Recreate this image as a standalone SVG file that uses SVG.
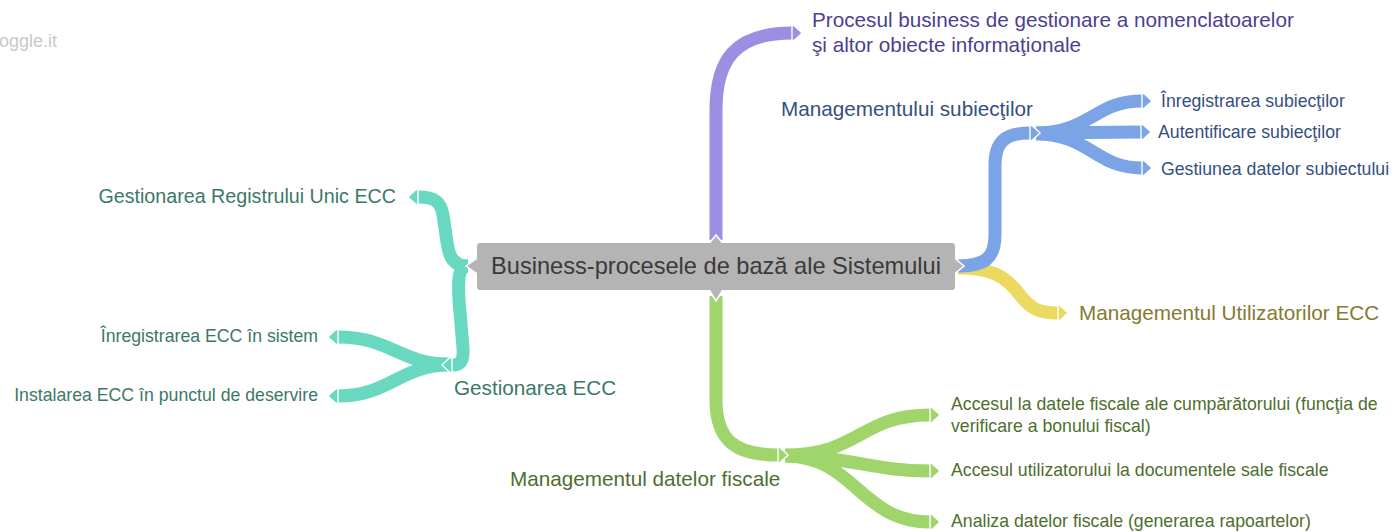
<svg xmlns="http://www.w3.org/2000/svg" width="1394" height="532" viewBox="0 0 1394 532">
<style>
text{font-family:"Liberation Sans",Arial,sans-serif}
.c{fill:none;stroke-width:13;stroke-linecap:butt}
.pu{stroke:#9b8fe2}.bl{stroke:#7ba4e6}.ye{stroke:#ebd962}.gr{stroke:#9fd56b}.te{stroke:#69d8c0}
.l1{font-size:20.7px}.l2{font-size:17.7px}
</style>
<defs>
<marker id="mpu" markerUnits="userSpaceOnUse" markerWidth="14" markerHeight="18" viewBox="-1 -1 12 16" refX="0" refY="7" orient="auto"><path d="M0,0.5 L2,0.5 L9,7 L2,13.5 L0,13.5Z" fill="#9b8fe2" stroke="#fff" stroke-width="1.2"/></marker>
<marker id="mbl" markerUnits="userSpaceOnUse" markerWidth="14" markerHeight="18" viewBox="-1 -1 12 16" refX="0" refY="7" orient="auto"><path d="M0,0.5 L2,0.5 L9,7 L2,13.5 L0,13.5Z" fill="#7ba4e6" stroke="#fff" stroke-width="1.2"/></marker>
<marker id="mye" markerUnits="userSpaceOnUse" markerWidth="14" markerHeight="18" viewBox="-1 -1 12 16" refX="0" refY="7" orient="auto"><path d="M0,0.5 L2,0.5 L9,7 L2,13.5 L0,13.5Z" fill="#ebd962" stroke="#fff" stroke-width="1.2"/></marker>
<marker id="mgr" markerUnits="userSpaceOnUse" markerWidth="14" markerHeight="18" viewBox="-1 -1 12 16" refX="0" refY="7" orient="auto"><path d="M0,0.5 L2,0.5 L9,7 L2,13.5 L0,13.5Z" fill="#9fd56b" stroke="#fff" stroke-width="1.2"/></marker>
<marker id="mte" markerUnits="userSpaceOnUse" markerWidth="14" markerHeight="18" viewBox="-1 -1 12 16" refX="0" refY="7" orient="auto"><path d="M0,0.5 L2,0.5 L9,7 L2,13.5 L0,13.5Z" fill="#69d8c0" stroke="#fff" stroke-width="1.2"/></marker>
</defs>
<rect width="1394" height="532" fill="#fff"/>
<text x="-1" y="47" font-size="18" fill="#c9c9c9">oggle.it</text>

<g id="connectors">
<path class="c bl" d="M1036,133 C1090,133 1095,101 1142,101" marker-end="url(#mbl)"/>
<path class="c bl" d="M1036,133 L1141,132" marker-end="url(#mbl)"/>
<path class="c bl" d="M1036,134 C1090,134 1095,168 1142,168" marker-end="url(#mbl)"/>
<path class="c gr" d="M785,455 C860,455 860,415 930,415" marker-end="url(#mgr)"/>
<path class="c gr" d="M785,456 C850,456 870,471 930,471" marker-end="url(#mgr)"/>
<path class="c gr" d="M785,456 C855,456 860,522 930,522" marker-end="url(#mgr)"/>
<path class="c te" d="M449,364 C400,364 390,337 338,337" marker-end="url(#mte)"/>
<path class="c te" d="M449,365 C400,365 390,396 338,396" marker-end="url(#mte)"/>
<path class="c pu" d="M716,240 L716,110 C716,60 735,33 792,33" marker-end="url(#mpu)"/>
<path class="c ye" d="M958,268 C990,268 1005,275 1020,295 C1032,310 1040,313 1058,313" marker-end="url(#mye)"/>
<path class="c bl" d="M958,266 C985,266 995,258 995,235 L995,165 C995,142 1005,133 1030,133" marker-end="url(#mbl)"/>
<path class="c gr" d="M716,296 L716,400 C716,440 735,455 778,455" marker-end="url(#mgr)"/>
<path class="c te" d="M468,266 C450,266 448,252 446,235 L443,215 C441,202 435,197 418,197" marker-end="url(#mte)"/>
<path class="c te" d="M468,266 C458,266 458,280 459,300 L463,348 C464,362 460,365 452,365" marker-end="url(#mte)"/>
</g>

<g id="root">
<path d="M709,243.5 L716,235 L723,243.5 M709,289.5 L716,301 L723,289.5 M477.5,258 L466,266 L477.5,274 M954.5,258 L964,266 L954.5,274" fill="#b4b4b4" stroke="#fff" stroke-width="1.5"/>
<rect x="477" y="243" width="478" height="47" rx="3" fill="#b4b4b4"/>
<text x="716" y="274" font-size="23.6" fill="#3a3a3a" text-anchor="middle">Business-procesele de bază ale Sistemului</text>
</g>

<g id="n-procesul" fill="#4b3f92"><text x="812" y="27" class="l1">Procesul business de gestionare a nomenclatoarelor</text><text x="812" y="52" class="l1">şi altor obiecte informaţionale</text></g>
<g id="n-subiectilor"><text x="907" y="116" class="l1" fill="#35507f" text-anchor="middle">Managementului subiecţilor</text></g>
<g id="n-inreg-subiect"><text x="1161" y="107" class="l2" fill="#35507f">Înregistrarea subiecţilor</text></g>
<g id="n-autent"><text x="1158" y="138" class="l2" fill="#35507f">Autentificare subiecţilor</text></g>
<g id="n-gestiunea"><text x="1161" y="175" class="l2" fill="#35507f">Gestiunea datelor subiectului</text></g>
<g id="n-utilizatori"><text x="1079" y="320" class="l1" fill="#857a2f">Managementul Utilizatorilor ECC</text></g>
<g id="n-fiscale"><text x="510" y="486" class="l1" fill="#4e6e2e">Managementul datelor fiscale</text></g>
<g id="n-acces-cump" fill="#4e6e2e"><text x="951" y="410" class="l2">Accesul la datele fiscale ale cumpărătorului (funcţia de</text><text x="951" y="432" class="l2">verificare a bonului fiscal)</text></g>
<g id="n-acces-util"><text x="951" y="476" class="l2" fill="#4e6e2e">Accesul utilizatorului la documentele sale fiscale</text></g>
<g id="n-analiza"><text x="951" y="527" class="l2" fill="#4e6e2e">Analiza datelor fiscale (generarea rapoartelor)</text></g>
<g id="n-registru"><text x="396" y="203" font-size="19.7" fill="#3c7867" text-anchor="end">Gestionarea Registrului Unic ECC</text></g>
<g id="n-gest-ecc"><text x="454" y="395" class="l1" fill="#3c7867">Gestionarea ECC</text></g>
<g id="n-inreg-ecc"><text x="318" y="342" class="l2" fill="#3c7867" text-anchor="end">Înregistrarea ECC în sistem</text></g>
<g id="n-instalarea"><text x="318" y="401" class="l2" fill="#3c7867" text-anchor="end">Instalarea ECC în punctul de deservire</text></g>
</svg>
